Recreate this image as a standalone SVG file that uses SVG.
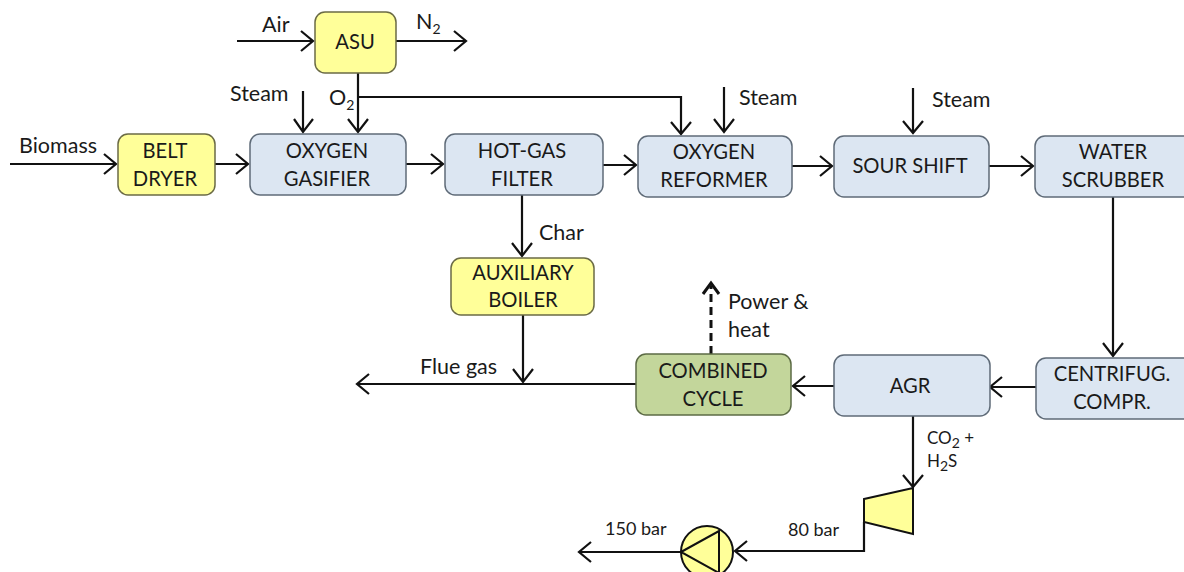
<svg xmlns="http://www.w3.org/2000/svg" width="1184" height="572" viewBox="0 0 1184 572">
<style>
.b{stroke:#5f6b78;stroke-width:1.5}
.y{fill:#ffff99;stroke:#6b6b45;stroke-width:1.5}
.bl{fill:#dce6f2}
.g{fill:#c3d69b;stroke:#5c6b45;stroke-width:1.5}
text{font-family:Lato,"Liberation Sans",sans-serif;font-size:20.2px;fill:#1a1a1a}
.c{text-anchor:middle}
#labels text{font-size:21.5px}
#labels .s{font-size:18px}
#labels .t{font-size:17px}
#labels tspan.sub{font-size:14px}
#connectors path{fill:none;stroke:#111;stroke-width:2.2}
#connectors .d{stroke-width:3;stroke-dasharray:8 5}
#connectors .h{stroke-width:3}
.p{stroke:#111;stroke-width:2;fill:#ffff99}
</style>
<rect width="1184" height="572" fill="#fff"/>
<g id="connectors">
<path d="M237 41H313M301 31L313 41L301 51"/>
<path d="M396 41H466M454 31L466 41L454 51"/>
<path d="M358 73V132M348 119L358 132L368 119"/>
<path d="M358 97H681V134M671 122L681 134L691 122"/>
<path d="M303 91V132M294 119L303 132L313 119"/>
<path d="M724 87V132M714 119L724 132L734 119"/>
<path d="M913 88V133M903 121L913 133L923 121"/>
<path d="M10 164H116M104 154L116 164L104 174"/>
<path d="M215 164H248M236 154L248 164L236 174"/>
<path d="M406 164H443M431 154L443 164L431 174"/>
<path d="M603 165H636M624 155L636 165L624 175"/>
<path d="M792 166H832M820 156L832 166L820 176"/>
<path d="M989 166H1033M1021 156L1033 166L1021 176"/>
<path d="M522 195V256M512 243L522 256L532 243"/>
<path d="M523 315V382M513 369L523 382L533 369"/>
<path d="M636 384H357M369 374L357 384L369 394"/>
<path class="d" d="M711 354V286"/>
<path class="h" d="M703 294L711 283L719 294"/>
<path d="M834 386H793M805 376L793 386L805 396"/>
<path d="M1036 387H990M1002 377L990 387L1002 397"/>
<path d="M1113 197V356M1103 343L1113 356L1123 343"/>
<path d="M913 416V487M903 475L913 487L923 475"/>
<path d="M864 522V551H735M747 541L735 551L747 561"/>
<path d="M681 552H579M591 542L579 552L591 562"/>
</g>
<g id="asu"><rect class="y" x="315" y="12" width="81" height="61" rx="10"/><text class="c" x="355" y="49">ASU</text></g>
<g id="belt-dryer"><rect class="y" x="118" y="134" width="97" height="61" rx="10"/><text class="c" x="165" y="158">BELT</text><text class="c" x="165" y="186">DRYER</text></g>
<g id="oxygen-gasifier"><rect class="b bl" x="250" y="134" width="156" height="61" rx="10"/><text class="c" x="327" y="158">OXYGEN</text><text class="c" x="327" y="186">GASIFIER</text></g>
<g id="hot-gas-filter"><rect class="b bl" x="445" y="134" width="158" height="61" rx="10"/><text class="c" x="522" y="158">HOT-GAS</text><text class="c" x="522" y="186">FILTER</text></g>
<g id="oxygen-reformer"><rect class="b bl" x="638" y="136" width="154" height="61" rx="10"/><text class="c" x="714" y="159">OXYGEN</text><text class="c" x="714" y="187">REFORMER</text></g>
<g id="sour-shift"><rect class="b bl" x="834" y="136" width="155" height="61" rx="10"/><text class="c" x="910" y="173">SOUR SHIFT</text></g>
<g id="water-scrubber"><rect class="b bl" x="1035" y="136" width="165" height="61" rx="10"/><text class="c" x="1113" y="159">WATER</text><text class="c" x="1113" y="187">SCRUBBER</text></g>
<g id="auxiliary-boiler"><rect class="y" x="451" y="258" width="143" height="57" rx="10"/><text class="c" x="523" y="280">AUXILIARY</text><text class="c" x="523" y="307">BOILER</text></g>
<g id="combined-cycle"><rect class="g" x="636" y="354" width="155" height="61" rx="10"/><text class="c" x="713" y="378">COMBINED</text><text class="c" x="713" y="406">CYCLE</text></g>
<g id="agr"><rect class="b bl" x="834" y="355" width="156" height="61" rx="10"/><text class="c" x="910" y="393">AGR</text></g>
<g id="centrifug-compr"><rect class="b bl" x="1036" y="358" width="165" height="61" rx="10"/><text class="c" x="1112" y="381">CENTRIFUG.</text><text class="c" x="1112" y="409">COMPR.</text></g>
<g id="compressor"><polygon class="p" points="864,499 913,488 913,534 864,522"/></g>
<g id="pump"><circle class="p" cx="707" cy="552" r="26"/><path class="p" d="M681 552L719 531V573Z"/></g>
<g id="labels">
<text x="262" y="32">Air</text>
<text x="416" y="29">N<tspan class="sub" dy="5">2</tspan></text>
<text x="230" y="101">Steam</text>
<text x="329" y="105">O<tspan class="sub" dy="5">2</tspan></text>
<text x="739" y="105">Steam</text>
<text x="932" y="107">Steam</text>
<text x="19" y="153">Biomass</text>
<text x="539" y="240">Char</text>
<text x="420" y="374">Flue gas</text>
<text x="728" y="309">Power &amp;</text>
<text x="728" y="337">heat</text>
<text class="t" x="927" y="444">CO<tspan class="sub" dy="4">2</tspan><tspan dy="-4"> +</tspan></text>
<text class="t" x="927" y="467">H<tspan class="sub" dy="4">2</tspan><tspan dy="-4">S</tspan></text>
<text class="s" x="788" y="536">80 bar</text>
<text class="s" x="605" y="535">150 bar</text>
</g>
</svg>
